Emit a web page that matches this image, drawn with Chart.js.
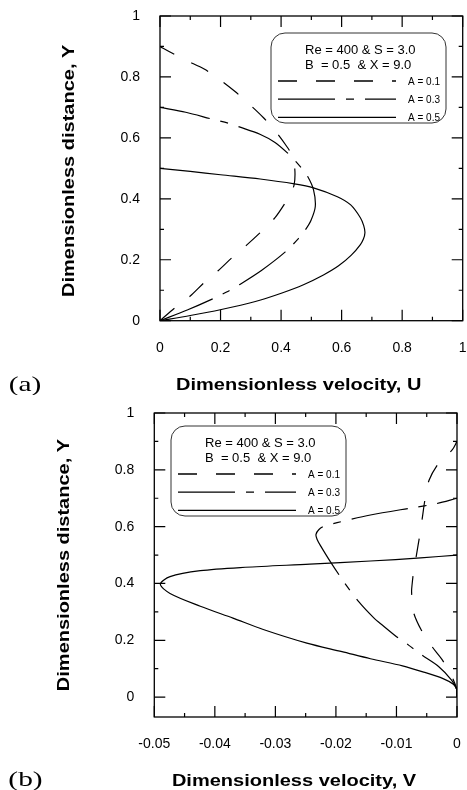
<!DOCTYPE html>
<html>
<head>
<meta charset="utf-8">
<script src="https://cdn.jsdelivr.net/npm/chart.js@4.4.0/dist/chart.umd.min.js"></script>
<style>
  html, body { margin: 0; padding: 0; background: #fff; }
  canvas { display: block; }
</style>
</head>
<body>
<canvas id="chartA" width="467" height="395"></canvas>
<canvas id="chartB" width="467" height="395"></canvas>
<script>
// series labels
const seriesLabels = ['A = 0.1', 'A = 0.3', 'A = 0.5'];

// (a) U profiles (ordered along Y)
const yA1 = [0, 0.043, 0.08, 0.125, 0.164, 0.207, 0.249, 0.292, 0.338, 0.387, 0.42, 0.446, 0.48, 0.518, 0.545, 0.57, 0.616, 0.666, 0.708, 0.752, 0.79, 0.826, 0.853, 0.882, 0.9];
const uA1 = [0, 0.05, 0.099, 0.146, 0.192, 0.238, 0.287, 0.334, 0.38, 0.414, 0.433, 0.443, 0.446, 0.443, 0.435, 0.42, 0.386, 0.342, 0.298, 0.248, 0.199, 0.146, 0.09, 0.033, 0];
const yA3 = [0, 0.035, 0.072, 0.095, 0.118, 0.165, 0.226, 0.27, 0.298, 0.33, 0.375, 0.43, 0.473, 0.5, 0.522, 0.548, 0.585, 0.612, 0.636, 0.648, 0.662, 0.684, 0.7];
const uA3 = [0, 0.09, 0.175, 0.222, 0.262, 0.335, 0.414, 0.458, 0.48, 0.499, 0.513, 0.507, 0.488, 0.468, 0.449, 0.424, 0.38, 0.33, 0.262, 0.226, 0.17, 0.085, 0];
const yA5 = [0, 0.017, 0.036, 0.063, 0.091, 0.118, 0.15, 0.18, 0.215, 0.25, 0.268, 0.289, 0.312, 0.338, 0.38, 0.407, 0.436, 0.449, 0.465, 0.479, 0.49, 0.5];
const uA5 = [0, 0.1, 0.199, 0.315, 0.403, 0.474, 0.54, 0.59, 0.632, 0.662, 0.672, 0.677, 0.673, 0.662, 0.63, 0.586, 0.507, 0.444, 0.331, 0.2, 0.1, 0];

// (b) V profiles
const yB1 = [0, 0.025, 0.07, 0.13, 0.177, 0.236, 0.3, 0.371, 0.4, 0.437, 0.5, 0.564, 0.635, 0.694, 0.764, 0.824, 0.87, 0.9];
const vB1 = [0, 0, -0.0008, -0.0024, -0.0041, -0.0059, -0.0072, -0.0075, -0.0074, -0.0072, -0.0067, -0.0062, -0.0057, -0.0053, -0.0046, -0.003, -0.0008, 0];
const yB3 = [0, 0.025, 0.06, 0.107, 0.148, 0.183, 0.208, 0.253, 0.278, 0.335, 0.406, 0.476, 0.535, 0.555, 0.572, 0.59, 0.603, 0.614, 0.641, 0.667, 0.68, 0.7];
const vB3 = [0, 0, -0.0009, -0.003, -0.0058, -0.008, -0.0097, -0.0123, -0.0137, -0.0162, -0.0187, -0.0209, -0.0226, -0.0231, -0.0233, -0.0228, -0.0218, -0.0198, -0.0143, -0.0072, -0.0036, 0];
const yB5 = [0, 0.025, 0.045, 0.065, 0.088, 0.11, 0.135, 0.16, 0.19, 0.238, 0.278, 0.32, 0.365, 0.397, 0.424, 0.445, 0.457, 0.468, 0.479, 0.49, 0.5];
const vB5 = [0, 0, -0.0006, -0.0023, -0.0055, -0.009, -0.0143, -0.019, -0.0248, -0.032, -0.037, -0.0424, -0.0474, -0.049, -0.0474, -0.0424, -0.035, -0.0243, -0.0143, -0.006, 0];

// tick labels
const xTicksA = [0, 0.2, 0.4, 0.6, 0.8, 1];
const yTicksA = [0, 0.2, 0.4, 0.6, 0.8, 1];
const xTicksB = [-0.05, -0.04, -0.03, -0.02, -0.01, 0];
const yTicksB = [0, 0.2, 0.4, 0.6, 0.8, 1];

const pts = (xs, ys) => xs.map((x, i) => ({ x: x, y: ys[i] }));
const dashes = [[19, 19], [57, 11, 8, 11], []];
const SANS = '"Liberation Sans", Arial, sans-serif';

function stretchText(ctx, text, x, y, sx, rot) {
  ctx.save();
  ctx.translate(x, y);
  if (rot) ctx.rotate(rot);
  ctx.scale(sx, 1);
  ctx.fillText(text, 0, 0);
  ctx.restore();
}

// frame, inward ticks on all sides, titles, panel tag and the boxed legend
const deco = {
  id: 'deco',
  afterDraw(chart, args, o) {
    const ctx = chart.ctx, a = chart.chartArea;
    const sx = chart.scales.x, sy = chart.scales.y;
    ctx.save();
    ctx.strokeStyle = '#000';
    ctx.lineWidth = 1.3;
    ctx.strokeRect(a.left, a.top, a.right - a.left, a.bottom - a.top);

    const marks = ticks => {
      const out = [];
      ticks.forEach((v, i) => {
        out.push([v, 11]);
        if (i < ticks.length - 1) out.push([(v + ticks[i + 1]) / 2, 4]);
      });
      return out;
    };
    ctx.lineWidth = 1.2;
    ctx.beginPath();
    marks(o.xTicks).forEach(([v, len]) => {
      const p = sx.getPixelForValue(v);
      ctx.moveTo(p, a.bottom); ctx.lineTo(p, a.bottom - len);
      ctx.moveTo(p, a.top); ctx.lineTo(p, a.top + len);
    });
    marks(o.yTicks).forEach(([v, len]) => {
      const p = sy.getPixelForValue(v);
      ctx.moveTo(a.left, p); ctx.lineTo(a.left + len, p);
      ctx.moveTo(a.right, p); ctx.lineTo(a.right - len, p);
    });
    ctx.stroke();

    // axis titles (the original lettering is wide)
    ctx.fillStyle = '#000';
    ctx.textAlign = 'center';
    ctx.textBaseline = 'alphabetic';
    ctx.font = 'bold 16px ' + SANS;
    stretchText(ctx, o.xTitle, o.xTitleAt[0], o.xTitleAt[1], 1.25, 0);
    stretchText(ctx, o.yTitle, o.yTitleAt[0], o.yTitleAt[1], 1.25, -Math.PI / 2);
    ctx.font = '21px "Liberation Serif", "Times New Roman", serif';
    stretchText(ctx, o.panel, o.panelAt[0], o.panelAt[1], 1.4, 0);

    // legend box
    const bx = a.left + o.legendAt[0], by = a.top + o.legendAt[1];
    ctx.strokeStyle = '#333';
    ctx.lineWidth = 1;
    ctx.beginPath();
    if (ctx.roundRect) ctx.roundRect(bx, by, 175, 90, 14); else ctx.rect(bx, by, 175, 90);
    ctx.stroke();
    ctx.textAlign = 'left';
    ctx.font = '13px ' + SANS;
    ctx.fillText(o.note[0], bx + 34, by + 21);
    ctx.fillText(o.note[1], bx + 34, by + 36);
    chart.data.datasets.forEach((ds, i) => {
      const yy = by + 48 + i * 18.2;
      ctx.save();
      ctx.setLineDash(ds.borderDash || []);
      ctx.lineWidth = 1.3;
      ctx.strokeStyle = ds.borderColor;
      ctx.beginPath();
      ctx.moveTo(bx + 7, yy);
      ctx.lineTo(bx + 125, yy);
      ctx.stroke();
      ctx.restore();
      ctx.font = '10px ' + SANS;
      ctx.textBaseline = 'middle';
      ctx.fillText(ds.label, bx + 137, yy + 1);
      ctx.textBaseline = 'alphabetic';
    });
    ctx.restore();
  }
};

function makeChart(id, series, xr, yr, xTicks, yTicks, area, extra) {
  const H = 395;
  return new Chart(document.getElementById(id), {
    type: 'scatter',
    data: {
      datasets: series.map((s, i) => ({
        label: seriesLabels[i],
        data: s,
        showLine: true,
        pointRadius: 0,
        borderColor: '#000',
        borderWidth: 1.2,
        borderDash: dashes[i],
        tension: 0.3
      }))
    },
    options: {
      responsive: false,
      animation: false,
      events: [],
      layout: { padding: { left: 0, top: area.top, right: 467 - area.right, bottom: 0 } },
      plugins: { legend: { display: false }, tooltip: { enabled: false }, deco: extra },
      scales: {
        x: {
          type: 'linear', min: xr[0], max: xr[1],
          afterBuildTicks: s => { s.ticks = xTicks.map(v => ({ value: v })); },
          afterFit: s => { s.height = H - area.bottom; s.paddingLeft = 0; s.paddingRight = 0; },
          grid: { display: false, drawTicks: false },
          border: { display: false },
          ticks: { padding: 19, color: '#000', maxRotation: 0, autoSkip: false,
                   font: { family: SANS, size: 14 }, callback: v => String(v) }
        },
        y: {
          type: 'linear', min: yr[0], max: yr[1],
          afterBuildTicks: s => { s.ticks = yTicks.map(v => ({ value: v })); },
          afterFit: s => { s.width = area.left; s.paddingTop = 0; s.paddingBottom = 0; },
          grid: { display: false, drawTicks: false },
          border: { display: false },
          ticks: { padding: 20, color: '#000', autoSkip: false,
                   font: { family: SANS, size: 14 }, callback: v => String(v) }
        }
      }
    },
    plugins: [deco]
  });
}

makeChart('chartA',
  [pts(uA1, yA1), pts(uA3, yA3), pts(uA5, yA5)],
  [0, 1], [0, 1], xTicksA, yTicksA,
  { left: 160, right: 462.7, top: 16, bottom: 320.7 },
  {
    xTicks: xTicksA, yTicks: yTicksA,
    xTitle: 'Dimensionless velocity, U', xTitleAt: [298.7, 390],
    yTitle: 'Dimensionless distance, Y', yTitleAt: [74, 170.8],
    panel: '(a)', panelAt: [25, 391],
    legendAt: [111, 17],
    note: ['Re = 400 & S = 3.0', 'B  = 0.5  & X = 9.0']
  });

makeChart('chartB',
  [pts(vB1, yB1), pts(vB3, yB3), pts(vB5, yB5)],
  [-0.05, 0], [-0.07, 1], xTicksB, yTicksB,
  { left: 154.3, right: 457, top: 18, bottom: 322 },
  {
    xTicks: xTicksB, yTicks: yTicksB,
    xTitle: 'Dimensionless velocity, V', xTitleAt: [294, 390.7],
    yTitle: 'Dimensionless distance, Y', yTitleAt: [69, 170],
    panel: '(b)', panelAt: [25.5, 391],
    legendAt: [16.7, 13],
    note: ['Re = 400 & S = 3.0', 'B  = 0.5  & X = 9.0']
  });
</script>
</body>
</html>
